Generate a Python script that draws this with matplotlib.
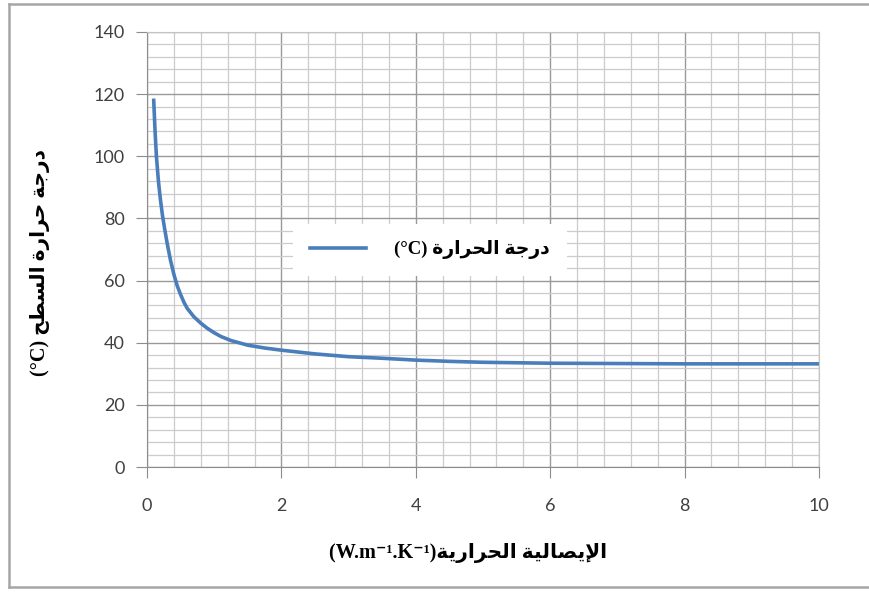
import matplotlib
matplotlib.use('Agg')
import matplotlib.pyplot as plt
from matplotlib.ticker import MultipleLocator
from matplotlib.lines import Line2D

# data
conductivity = [0.1, 0.12, 0.14, 0.17, 0.2, 0.23, 0.26, 0.3, 0.35, 0.4, 0.45, 0.5,
                0.55, 0.6, 0.7, 0.8, 0.9, 1.0, 1.1, 1.25, 1.5, 1.75,
                2.0, 2.5, 3.0, 3.5, 4.0, 4.5, 5.0, 6.0, 7.0, 8.0, 9.0, 10.0]
temperature = [118, 108, 100, 92, 86, 81, 77, 72, 66.5, 62, 58.3, 55.5,
               53, 51, 48.3, 46.3, 44.6, 43.2, 42, 40.7, 39.2, 38.3,
               37.6, 36.4, 35.5, 35.0, 34.4, 34.0, 33.7, 33.4, 33.3, 33.2, 33.2, 33.2]

legend_label = 'درجة الحرارة'
ylabel_ar = 'درجة حرارة السطح'
xlabel_ar = 'الإيصالية الحرارية'

# matplotlib has no arabic shaping, so pick the presentation forms by hand
FORMS = {
    'ا': (0xFE8D, 0xFE8E), 'إ': (0xFE87, 0xFE88), 'د': (0xFEA9, 0xFEAA),
    'ر': (0xFEAD, 0xFEAE), 'ة': (0xFE93, 0xFE94),
    'ج': (0xFE9D, 0xFE9E, 0xFE9F, 0xFEA0), 'ح': (0xFEA1, 0xFEA2, 0xFEA3, 0xFEA4),
    'ل': (0xFEDD, 0xFEDE, 0xFEDF, 0xFEE0), 'س': (0xFEB1, 0xFEB2, 0xFEB3, 0xFEB4),
    'ط': (0xFEC1, 0xFEC2, 0xFEC3, 0xFEC4), 'ي': (0xFEF1, 0xFEF2, 0xFEF3, 0xFEF4),
    'ص': (0xFEB9, 0xFEBA, 0xFEBB, 0xFEBC),
}
LAM_ALEF = {'ا': (0xFEFB, 0xFEFC), 'إ': (0xFEF9, 0xFEFA)}


def shape_word(word):
    out = []
    prev = False
    i = 0
    while i < len(word):
        c = word[i]
        if c == 'ل' and i + 1 < len(word) and word[i + 1] in LAM_ALEF:
            iso, fin = LAM_ALEF[word[i + 1]]
            out.append(chr(fin if prev else iso))
            prev = False
            i += 2
            continue
        f = FORMS[c]
        dual = len(f) == 4
        nxt = i + 1 < len(word) and word[i + 1] in FORMS
        if prev and dual and nxt:
            g = f[3]
        elif prev:
            g = f[1]
        elif dual and nxt:
            g = f[2]
        else:
            g = f[0]
        out.append(chr(g))
        prev = dual
        i += 1
    return ''.join(out)[::-1]


def ar(text):
    return ' '.join(shape_word(w) for w in reversed(text.split()))


fig = plt.figure(figsize=(8.69, 5.93), dpi=100)
ax = fig.add_axes([147/869, 1-467/593, (819-147)/869, (467-32)/593])

ax.plot(conductivity, temperature, color='#4A7EBB', lw=2.6, solid_joinstyle='round',
        label='(°C) ' + ar(legend_label))

ax.set_xlim(0, 10)
ax.set_ylim(0, 140)
ax.xaxis.set_major_locator(MultipleLocator(2))
ax.xaxis.set_minor_locator(MultipleLocator(0.4))
ax.yaxis.set_major_locator(MultipleLocator(20))
ax.yaxis.set_minor_locator(MultipleLocator(4))
ax.grid(which='major', color='#999999', lw=1.0)
ax.grid(which='minor', color='#cccccc', lw=0.9)
ax.set_axisbelow(True)

for s in ['top', 'right']:
    ax.spines[s].set_color('#c4c4c4')
for s in ['left', 'bottom']:
    ax.spines[s].set_color('#8c8c8c')
ax.tick_params(which='major', length=8, color='#8c8c8c', labelsize=13,
               labelcolor='#404040')
ax.tick_params(which='minor', length=0)
for lab in ax.get_xticklabels() + ax.get_yticklabels():
    lab.set_fontfamily('Lato')
ax.tick_params(axis='x', pad=14)
ax.tick_params(axis='y', pad=8)

lab_font = dict(family=['Liberation Serif', 'DejaVu Sans'], weight='bold', size=14.5)
fig.text(468/869, 1-553/593, '(W.m⁻¹.K⁻¹)' + ar(xlabel_ar), ha='center', va='center', **lab_font)
fig.text(40/869, 1-262/593, '(°C) ' + ar(ylabel_ar), ha='center', va='center',
         rotation=90, **lab_font)

leg = ax.legend(loc='center', bbox_to_anchor=(430/869, 1-250/593), bbox_transform=fig.transFigure,
                frameon=True, fancybox=False, handlelength=3.0, borderpad=0.9, handletextpad=1.5,
                prop=dict(family=['Liberation Serif', 'DejaVu Sans'], weight='bold', size=13.5))
leg.get_frame().set_edgecolor('none')
leg.get_frame().set_facecolor('white')
leg.get_frame().set_alpha(1)

# chart area border like the excel frame
fc = '#a6a6a6'
fig.add_artist(Line2D([9/869, 9/869], [1-587/593, 1-4/593], transform=fig.transFigure, color=fc, lw=1.8))
fig.add_artist(Line2D([9/869, 1], [1-4/593, 1-4/593], transform=fig.transFigure, color=fc, lw=1.8))
fig.add_artist(Line2D([9/869, 1], [1-587/593, 1-587/593], transform=fig.transFigure, color=fc, lw=1.8))

fig.savefig('out.png', dpi=100)
